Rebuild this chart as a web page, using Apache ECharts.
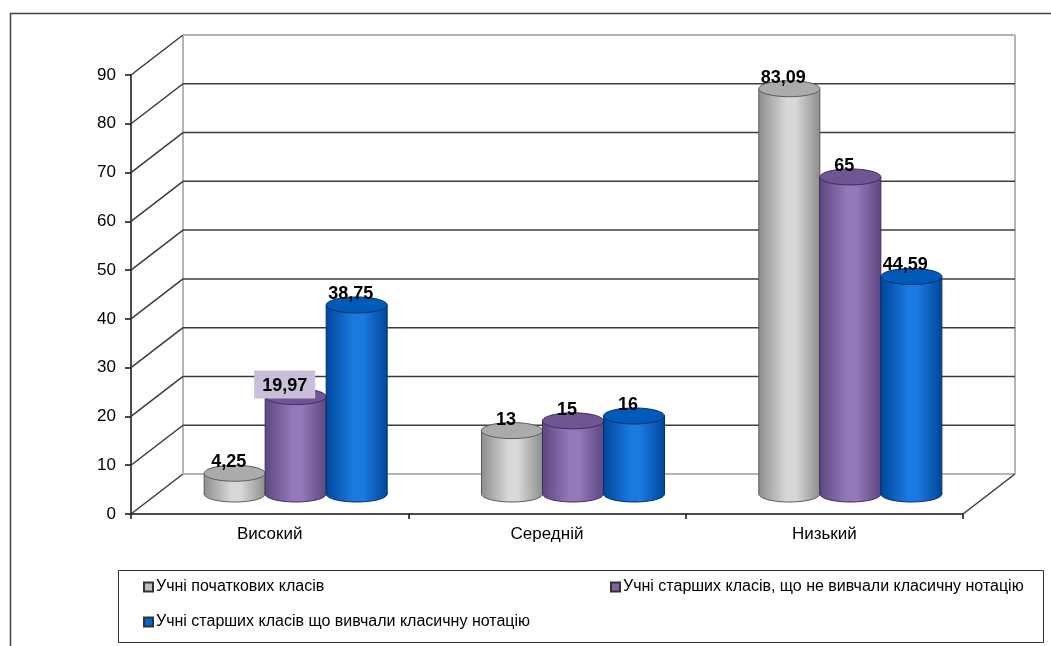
<!DOCTYPE html>
<html><head><meta charset="utf-8">
<script src="https://cdn.jsdelivr.net/npm/echarts@6/dist/echarts.min.js"></script>
<style>html,body{margin:0;padding:0;background:#fff}#c{width:1051px;height:646px}</style>
</head><body><div id="c"></div>
<script>
// ---- data ----
const categories = ['Високий', 'Середній', 'Низький'];
const seriesNames = [
  'Учні початкових класів',
  'Учні старших класів, що не вивчали класичну нотацію',
  'Учні старших класів що вивчали класичну нотацію'
];
const primaryPupils = [4.25, 13, 83.09];
const olderWithoutNotation = [19.97, 15, 65];
const olderWithNotation = [38.75, 16, 44.59];
const yTicks = [0, 10, 20, 30, 40, 50, 60, 70, 80, 90];

// ---- styling ----
const DX = 52, DY = 40;           // depth of the 3D box
const RY = 8;                      // ellipse vertical radius
const palettes = [
  {edge:'#8e8e8e', mid:'#d8d8d8', top:'#ababab', stroke:'#5a5a5a', legend:'#c0c0c0'},
  {edge:'#5e4880', mid:'#9478bb', top:'#6f5594', stroke:'#3d2c58', legend:'#8064a2'},
  {edge:'#00479c', mid:'#1a7ae0', top:'#005ab8', stroke:'#00306e', legend:'#0066cc'}
];
const seriesData = [primaryPupils, olderWithoutNotation, olderWithNotation];
const boxedLabel = {series: 1, index: 0, color: '#c8c0d8'};

function fmt(v){ return String(v).replace('.', ','); }

function cylinder(sIdx){
  const pal = palettes[sIdx];
  return function(params, api){
    const cat = api.value(0), v = api.value(1);
    const base = api.coord([cat, 0]);
    const top = api.coord([cat, v]);
    const cw = api.size([1, 0])[0];
    const w = cw * 0.22;
    const cx = base[0] + DX / 2 + (sIdx - 1) * w;
    const by = base[1] - DY / 2;
    const ty = top[1] - DY / 2;
    const rx = w / 2;
    const grad = () => new echarts.graphic.LinearGradient(0, 0, 1, 0, [
      {offset: 0, color: pal.edge},
      {offset: 0.45, color: pal.mid},
      {offset: 0.6, color: pal.mid},
      {offset: 1, color: pal.edge}
    ]);
    const children = [
      {type:'ellipse', shape:{cx:cx, cy:by, rx:rx, ry:RY}, style:{fill:grad(), stroke:pal.stroke, lineWidth:1}},
      {type:'rect', shape:{x:cx-rx, y:ty, width:w, height:by-ty}, style:{fill:grad()}},
      {type:'line', shape:{x1:cx-rx, y1:ty, x2:cx-rx, y2:by}, style:{stroke:pal.stroke, lineWidth:1}},
      {type:'line', shape:{x1:cx+rx, y1:ty, x2:cx+rx, y2:by}, style:{stroke:pal.stroke, lineWidth:1}},
      {type:'ellipse', shape:{cx:cx, cy:ty, rx:rx, ry:RY}, style:{fill:pal.top, stroke:pal.stroke, lineWidth:1}}
    ];
    const boxed = sIdx === boxedLabel.series && params.dataIndex === boxedLabel.index;
    const ts = {
      text: fmt(v), x: cx - 6, y: ty - 2,
      fill: '#000', font: 'bold 18px Arial, "Liberation Sans", sans-serif',
      align: 'center', verticalAlign: 'bottom'
    };
    if (boxed) { ts.backgroundColor = boxedLabel.color; ts.padding = [6, 8, 4, 8]; ts.y = ty + 2; ts.x = cx - 11; }
    children.push({type:'text', z2: 100, style: ts});
    return {type:'group', children: children};
  };
}

function walls(params, api){
  const cs = params.coordSys;
  const v = api.value(1);
  const fy = api.coord([0, v])[1];
  const fx = cs.x;
  const bx = fx + DX, by = fy - DY;
  const right = cs.x + cs.width + DX;
  const edge = (v === yTicks[0] || v === yTicks[yTicks.length - 1]);
  const dark = '#3c3c3c', light = '#b4b4b4';
  const children = [
    {type:'line', shape:{x1:fx, y1:fy, x2:bx, y2:by}, style:{stroke:dark, lineWidth:1.5}},
    {type:'line', shape:{x1:bx, y1:by, x2:right, y2:by}, style:{stroke: edge ? light : dark, lineWidth: edge ? 2 : 1.5}}
  ];
  if (params.dataIndex === 0) {
    const topY = api.coord([0, yTicks[yTicks.length - 1]])[1] - DY;
    children.push({type:'line', shape:{x1:bx, y1:topY, x2:bx, y2:by}, style:{stroke:light, lineWidth:2}});
    children.push({type:'line', shape:{x1:right, y1:topY, x2:right, y2:by}, style:{stroke:light, lineWidth:2}});
    children.push({type:'line', shape:{x1:cs.x + cs.width, y1:fy, x2:right, y2:by}, style:{stroke:dark, lineWidth:1.5}});
  }
  return {type:'group', children: children};
}

const chart = echarts.init(document.getElementById('c'), null, {renderer:'canvas'});
const series = [{
  type:'custom', name:'walls', renderItem: walls, clip:false, z:1, silent:true,
  data: yTicks.map(v => [0, v])
}];
seriesData.forEach((arr, i) => {
  series.push({
    type:'custom', name: seriesNames[i], renderItem: cylinder(i), clip:false, z: 2 + i,
    itemStyle:{color: palettes[i].legend, borderColor:'#333', borderWidth:1},
    data: arr.map((v, k) => [k, v])
  });
});

const legendBase = {
  orient:'horizontal', selectedMode:false, icon:'rect', itemWidth:9, itemHeight:9, itemGap:4, padding:0,
  textStyle:{fontSize:16, fontFamily:'Arial, "Liberation Sans", sans-serif', color:'#000', padding:[0,0,0,-2]}
};

chart.setOption({
  animation:false,
  backgroundColor:'#fff',
  grid:{left:131, right:88, top:75, bottom:132, containLabel:false},
  xAxis:{
    type:'category', data:categories, boundaryGap:true,
    axisLine:{show:true, lineStyle:{color:'#111', width:1.5}},
    axisTick:{show:true, length:5, lineStyle:{color:'#111', width:1.5}},
    axisLabel:{fontSize:17, color:'#000', margin:12, fontFamily:'Arial, "Liberation Sans", sans-serif'},
    splitLine:{show:false}
  },
  yAxis:{
    type:'value', min:0, max:90, interval:10,
    axisLine:{show:true, lineStyle:{color:'#111', width:1.5}},
    axisTick:{show:true, length:6, lineStyle:{color:'#111', width:1.5}},
    axisLabel:{fontSize:17, color:'#000', margin:15, fontFamily:'Arial, "Liberation Sans", sans-serif'},
    splitLine:{show:false}
  },
  legend:[
    Object.assign({}, legendBase, {data:[seriesNames[0]], left:143, top:579}),
    Object.assign({}, legendBase, {data:[seriesNames[1]], left:610, top:579}),
    Object.assign({}, legendBase, {data:[seriesNames[2]], left:143, top:614})
  ],
  graphic:[
    {type:'rect', left:8, top:11, shape:{x:0, y:0, width:1100, height:700}, style:{fill:'none', stroke:'#444', lineWidth:1.5}, silent:true},
    {type:'rect', shape:{x:118.5, y:570.5, width:925, height:72}, style:{fill:'none', stroke:'#333', lineWidth:1}, silent:true}
  ],
  series: series
});
</script>
</body></html>
